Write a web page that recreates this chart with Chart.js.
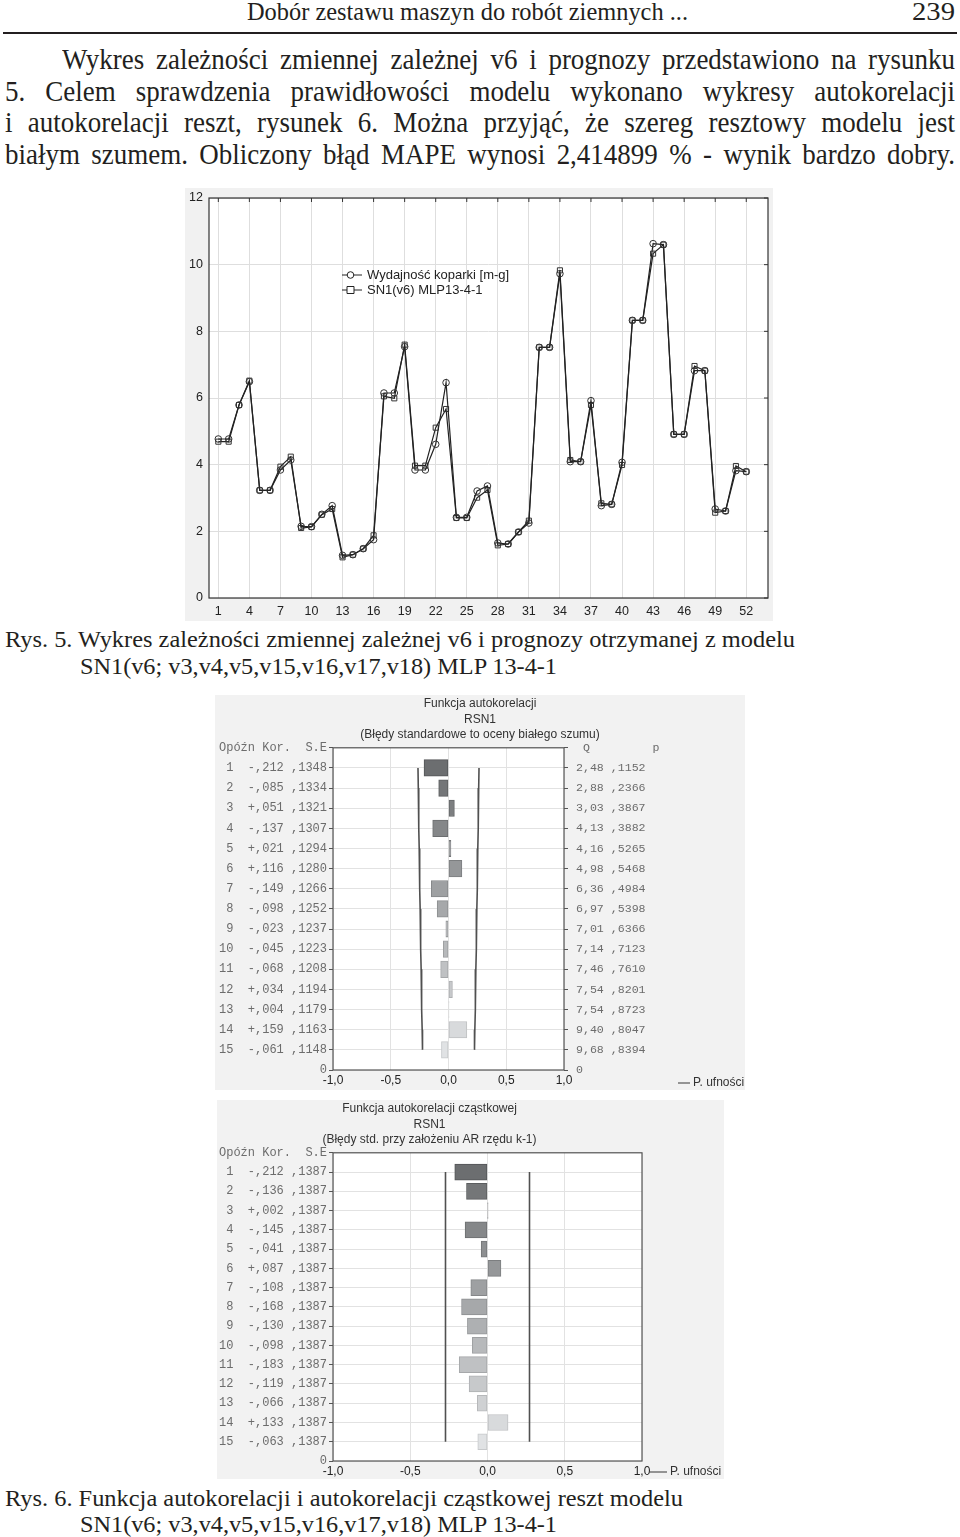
<!DOCTYPE html>
<html>
<head>
<meta charset="utf-8">
<script src="https://cdn.jsdelivr.net/npm/chart.js@4.4.0/dist/chart.umd.min.js"></script>
<style>
body{margin:0;background:#fff;width:960px;height:1537px;position:relative;overflow:hidden;font-family:"Liberation Serif","DejaVu Serif",serif;color:#231f20}
.ln{position:absolute;white-space:nowrap;line-height:1;transform-origin:0 0;display:inline-block}
.rule{position:absolute;left:3px;top:32px;width:954px;height:2px;background:#231f20}
.box{position:absolute}
</style>
</head>
<body>
<div class="rule"></div>
<div class="box" style="left:185px;top:188px;width:588px;height:433px;background:#f1f1f1"><canvas id="c1" width="588" height="433"></canvas></div>
<div class="box" style="left:215px;top:695px;width:530px;height:395px;background:#f2f2f2"><canvas id="c2" width="530" height="395"></canvas></div>
<div class="box" style="left:217px;top:1100px;width:507px;height:379px;background:#f2f2f2"><canvas id="c3" width="507" height="379"></canvas></div>
<script>
// --- Rys. 5 data (obs 1..52)
var xTicks = [1,4,7,10,13,16,19,22,25,28,31,34,37,40,43,46,49,52];
var yTicks = [0,2,4,6,8,10,12];
var actual = [4.77,4.77,5.79,6.49,3.23,3.23,3.84,4.14,2.15,2.14,
	2.51,2.77,1.28,1.30,1.48,1.75,6.15,6.15,7.54,3.84,
	3.84,4.61,6.46,2.42,2.42,3.21,3.36,1.65,1.62,1.98,
	2.25,7.52,7.52,9.73,4.09,4.09,5.92,2.77,2.81,4.07,
	8.33,8.33,10.63,10.60,4.91,4.91,6.82,6.82,2.67,2.61,
	3.82,3.79];
var predicted = [4.69,4.69,5.79,6.52,3.23,3.23,3.94,4.24,2.10,2.13,
	2.50,2.67,1.22,1.30,1.48,1.88,6.05,5.99,7.60,3.97,
	3.97,5.11,5.67,2.40,2.40,3.01,3.24,1.58,1.62,1.98,
	2.32,7.52,7.52,9.83,4.14,4.09,5.79,2.84,2.81,3.99,
	8.33,8.33,10.33,10.60,4.91,4.91,6.96,6.82,2.56,2.61,
	3.96,3.79];
var seriesNames = ['Wydajność koparki [m-g]', 'SN1(v6) MLP13-4-1'];

// --- Rys. 6 data (lags 1..15)
var lags = [1,2,3,4,5,6,7,8,9,10,11,12,13,14,15];
var acfKor = [-0.212,-0.085,0.051,-0.137,0.021,0.116,-0.149,-0.098,-0.023,-0.045,-0.068,0.034,0.004,0.159,-0.061];
var acfSE = [0.1348,0.1334,0.1321,0.1307,0.1294,0.1280,0.1266,0.1252,0.1237,0.1223,0.1208,0.1194,0.1179,0.1163,0.1148];
var acfQ = [2.48,2.88,3.03,4.13,4.16,4.98,6.36,6.97,7.01,7.14,7.46,7.54,7.54,9.40,9.68];
var acfP = [0.1152,0.2366,0.3867,0.3882,0.5265,0.5468,0.4984,0.5398,0.6366,0.7123,0.7610,0.8201,0.8723,0.8047,0.8394];
var pacfKor = [-0.212,-0.136,0.002,-0.145,-0.041,0.087,-0.108,-0.168,-0.130,-0.098,-0.183,-0.119,-0.066,0.133,-0.063];
var pacfSE = [0.1387,0.1387,0.1387,0.1387,0.1387,0.1387,0.1387,0.1387,0.1387,0.1387,0.1387,0.1387,0.1387,0.1387,0.1387];
var corrTicks = [-1,-0.5,0,0.5,1];
var acfTitle = ['Funkcja autokorelacji', 'RSN1', '(Błędy standardowe to oceny białego szumu)'];
var pacfTitle = ['Funkcja autokorelacji cząstkowej', 'RSN1', '(Błędy std. przy założeniu AR rzędu k-1)'];
var confLabel = 'P. ufności';

// page text
var pageLines = [
	{t:'Dobór zestawu maszyn do robót ziemnych ...', l:247, r:688, y:13, fs:25},
	{t:'239', l:912, r:955, y:13, fs:25},
	{t:'Wykres zależności zmiennej zależnej v6 i prognozy przedstawiono na rysunku', l:62, r:955, y:61, fs:29, j:1},
	{t:'5. Celem sprawdzenia prawidłowości modelu wykonano wykresy autokorelacji', l:5, r:955, y:93, fs:29, j:1},
	{t:'i autokorelacji reszt, rysunek 6. Można przyjąć, że szereg resztowy modelu jest', l:5, r:955, y:124, fs:29, j:1},
	{t:'białym szumem. Obliczony błąd MAPE wynosi 2,414899 % - wynik bardzo dobry.', l:5, r:955, y:156, fs:29, j:1},
	{t:'Rys. 5. Wykres zależności zmiennej zależnej v6 i prognozy otrzymanej z modelu', l:5, r:795, y:640, fs:24},
	{t:'SN1(v6; v3,v4,v5,v15,v16,v17,v18) MLP 13-4-1', l:80, r:557, y:667, fs:24},
	{t:'Rys. 6. Funkcja autokorelacji i autokorelacji cząstkowej reszt modelu', l:5, r:683, y:1499, fs:24},
	{t:'SN1(v6; v3,v4,v5,v15,v16,v17,v18) MLP 13-4-1', l:80, r:557, y:1525, fs:24}
];

pageLines.forEach(function (p) {
	var s = document.createElement('span');
	s.className = 'ln';
	s.textContent = p.t;
	s.style.fontSize = p.fs + 'px';
	s.style.left = p.l + 'px';
	s.style.top = (p.y - p.fs * 0.56) + 'px';
	document.body.appendChild(s);
	var w = s.getBoundingClientRect().width;
	var target = p.r - p.l;
	var k = target / w;
	if (p.j && k > 0.93) {
		// justified line: keep glyphs a little condensed, spread the rest over the spaces
		var spaces = p.t.split(' ').length - 1;
		s.style.wordSpacing = ((target / 0.93 - w) / spaces) + 'px';
		k = 0.93;
	}
	s.style.transform = 'scaleX(' + k + ')';
});

var sans = '"Liberation Sans", Arial, sans-serif';
var mono = '"Liberation Mono", "Courier New", monospace';

var frame = {
	id: 'frame',
	afterDraw: function (chart) {
		var a = chart.chartArea, c = chart.ctx;
		c.save();
		c.strokeStyle = chart.options.frameColor || '#444';
		c.lineWidth = 1.2;
		c.strokeRect(a.left, a.top, a.right - a.left, a.bottom - a.top);
		if (chart.options.innerTicks) {
			// small inward ticks on the top and right edges
			c.lineWidth = 1;
			chart.scales.x.ticks.forEach(function (t) {
				var px = chart.scales.x.getPixelForValue(t.value);
				c.beginPath(); c.moveTo(px, a.top); c.lineTo(px, a.top + 4); c.stroke();
			});
			chart.scales.y.ticks.forEach(function (t) {
				var py = chart.scales.y.getPixelForValue(t.value);
				c.beginPath(); c.moveTo(a.right, py); c.lineTo(a.right - 4, py); c.stroke();
			});
		}
		c.restore();
	},
	beforeDraw: function (chart) {
		var a = chart.chartArea, c = chart.ctx;
		c.save();
		c.fillStyle = '#fff';
		c.fillRect(a.left, a.top, a.right - a.left, a.bottom - a.top);
		c.restore();
	}
};

// legend of rys. 5 drawn inside plot
var innerLegend = {
	id: 'innerLegend',
	afterDraw: function (chart) {
		var c = chart.ctx;
		c.save();
		chart.data.datasets.forEach(function (ds, i) {
			var y = 87 + i * 15;
			c.strokeStyle = '#222';
			c.lineWidth = 1;
			c.beginPath(); c.moveTo(157, y); c.lineTo(177, y); c.stroke();
			c.fillStyle = '#fff';
			c.beginPath();
			if (ds.pointStyle === 'rect') c.rect(162, y - 3.5, 7, 7);
			else c.arc(165.5, y, 3.3, 0, Math.PI * 2);
			c.fill(); c.stroke();
			c.fillStyle = '#222';
			c.font = '13px ' + sans;
			c.textBaseline = 'middle';
			c.fillText(ds.label, 182, y + 0.5);
		});
		c.restore();
	}
};

var confLegend = {
	id: 'confLegend',
	afterDraw: function (chart) {
		var o = chart.options.confLegendPos;
		var c = chart.ctx;
		c.save();
		c.strokeStyle = '#555';
		c.lineWidth = 1.2;
		c.beginPath(); c.moveTo(o.x, o.y); c.lineTo(o.x + o.len, o.y); c.stroke();
		c.fillStyle = '#333';
		c.font = '12px ' + sans;
		c.textBaseline = 'middle';
		c.fillText(confLabel, o.x + o.len + 3, o.y);
		c.restore();
	}
};

new Chart(document.getElementById('c1').getContext('2d'), {
	type: 'line',
	data: {
		datasets: [{
			label: seriesNames[0],
			data: actual.map(function (v, i) { return {x: i + 1, y: v}; }),
			borderColor: '#222', borderWidth: 1.2,
			pointStyle: 'circle', pointRadius: 3.3,
			pointBackgroundColor: 'rgba(255,255,255,0)', pointBorderColor: '#333', pointBorderWidth: 1
		}, {
			label: seriesNames[1],
			data: predicted.map(function (v, i) { return {x: i + 1, y: v}; }),
			borderColor: '#222', borderWidth: 1.2,
			pointStyle: 'rect', pointRadius: 3.6,
			pointBackgroundColor: 'rgba(255,255,255,0)', pointBorderColor: '#333', pointBorderWidth: 1
		}]
	},
	options: {
		responsive: false, animation: false,
		frameColor: '#333', innerTicks: true,
		layout: {padding: {top: 10, right: 5, left: 0, bottom: 0}},
		plugins: {legend: {display: false}, tooltip: {enabled: false}},
		scales: {
			x: {
				type: 'linear', min: 0.1, max: 54.1,
				afterBuildTicks: function (s) { s.ticks = xTicks.map(function (v) { return {value: v}; }); },
				afterFit: function (s) { s.height = 23; },
				ticks: {autoSkip: false, maxRotation: 0, padding: 6, color: '#222', font: {family: sans, size: 12.5}},
				grid: {color: '#dedede', drawTicks: false},
				border: {display: false}
			},
			y: {
				min: 0, max: 12,
				afterBuildTicks: function (s) { s.ticks = yTicks.map(function (v) { return {value: v}; }); },
				afterFit: function (s) { s.width = 24; s.paddingTop = 0; },
				ticks: {padding: 6, color: '#222', font: {family: sans, size: 12.5}},
				grid: {color: '#dedede', drawTicks: false},
				border: {display: false}
			}
		}
	},
	plugins: [frame, innerLegend]
});

function fmtKor(v) { return (v < 0 ? '-' : '+') + Math.abs(v).toFixed(3).slice(1).replace('.', ','); }
function fmtSE(v) { return v.toFixed(4).slice(1).replace('.', ','); }
function fmtQ(v) { return v.toFixed(2).replace('.', ','); }
function fmtX(v) { return v.toFixed(1).replace('.', ','); }
function barGray(i, d) {
	var g = Math.round(0x6e + (0xe2 - 0x6e) * i / 14) - (d || 0);
	return 'rgb(' + (g - 2) + ',' + g + ',' + (g + 2) + ')';
}
function allTicks(s) { var t = []; for (var v = 0; v <= 16; v++) t.push({value: v}); s.ticks = t; }

function corrChart(id, kor, se, title, opts) {
	var datasets = [{
		type: 'line', label: confLabel,
		data: lags.map(function (l, i) { return {x: -1.96 * se[i], y: 16 - l}; }),
		borderColor: '#505050', borderWidth: 1.6, pointRadius: 0, fill: false
	}, {
		type: 'line', label: confLabel,
		data: lags.map(function (l, i) { return {x: 1.96 * se[i], y: 16 - l}; }),
		borderColor: '#505050', borderWidth: 1.6, pointRadius: 0, fill: false
	}, {
		type: 'bar', label: 'Kor.', indexAxis: 'y',
		data: lags.map(function (l, i) { return {x: kor[i], y: 16 - l}; }),
		barThickness: opts.barH,
		backgroundColor: function (ctx) { return barGray(ctx.dataIndex, 0); },
		borderColor: function (ctx) { return barGray(ctx.dataIndex, 25); },
		borderWidth: 1, borderSkipped: false
	}];
	var scales = {
		x: {
			type: 'linear', min: -1, max: 1, offset: false,
			afterBuildTicks: function (s) { s.ticks = corrTicks.map(function (v) { return {value: v}; }); },
			afterFit: function (s) { s.height = opts.xh; },
			ticks: {padding: 3, color: '#222', font: {family: sans, size: 12}, callback: fmtX},
			grid: {color: '#e2e2e2', drawTicks: false, offset: false},
			border: {display: false}
		},
		y: {
			type: 'linear', min: 0, max: 16, offset: false,
			afterBuildTicks: allTicks,
			afterFit: function (s) { s.width = opts.yw; },
			ticks: {
				autoSkip: false, padding: 2, color: '#6c6c6c', font: {family: mono, size: 12},
				callback: function (v) {
					if (v === 16) return 'Opóźn Kor.  S.E';
					if (v === 0) return '0';
					var i = 16 - v - 1;
					return (lags[i] < 10 ? ' ' : '') + lags[i] + '  ' + fmtKor(kor[i]) + ' ' + fmtSE(se[i]);
				}
			},
			grid: {color: '#e2e2e2', tickColor: '#555', tickLength: 4, offset: false},
			border: {display: false}
		}
	};
	if (opts.q) {
		scales.y2 = {
			type: 'linear', position: 'right', min: 0, max: 16, offset: false,
			afterBuildTicks: allTicks,
			afterFit: function (s) { s.width = opts.y2w; },
			ticks: {
				autoSkip: false, padding: 8, color: '#6c6c6c', font: {family: mono, size: 11.6},
				callback: function (v) {
					if (v === 16) return ' Q         p';
					if (v === 0) return '0';
					var i = 16 - v - 1;
					return fmtQ(acfQ[i]) + ' ' + fmtSE(acfP[i]);
				}
			},
			grid: {drawOnChartArea: false, tickColor: '#555', tickLength: 4, offset: false},
			border: {display: false}
		};
	}
	return new Chart(document.getElementById(id).getContext('2d'), {
		type: 'bar',
		data: {datasets: datasets},
		options: {
			responsive: false, animation: false,
			frameColor: '#555',
			confLegendPos: opts.leg,
			layout: {padding: {top: 0, left: 0, right: opts.padR, bottom: 0}},
			plugins: {
				legend: {display: false}, tooltip: {enabled: false},
				title: {
					display: true, text: title, color: '#333',
					font: {family: sans, size: 12, weight: 'normal', lineHeight: 1.3},
					padding: {top: 1, bottom: 5}
				}
			},
			scales: scales
		},
		plugins: [frame, confLegend]
	});
}

corrChart('c2', acfKor, acfSE, acfTitle, {barH: 16.5, xh: 20, yw: 118, y2w: 181, padR: 0, q: true,
	leg: {x: 463, y: 388, len: 12}});
corrChart('c3', pacfKor, pacfSE, pacfTitle, {barH: 16, xh: 18, yw: 116, padR: 82, q: false,
	leg: {x: 433, y: 372, len: 17}});
</script>
</body>
</html>
